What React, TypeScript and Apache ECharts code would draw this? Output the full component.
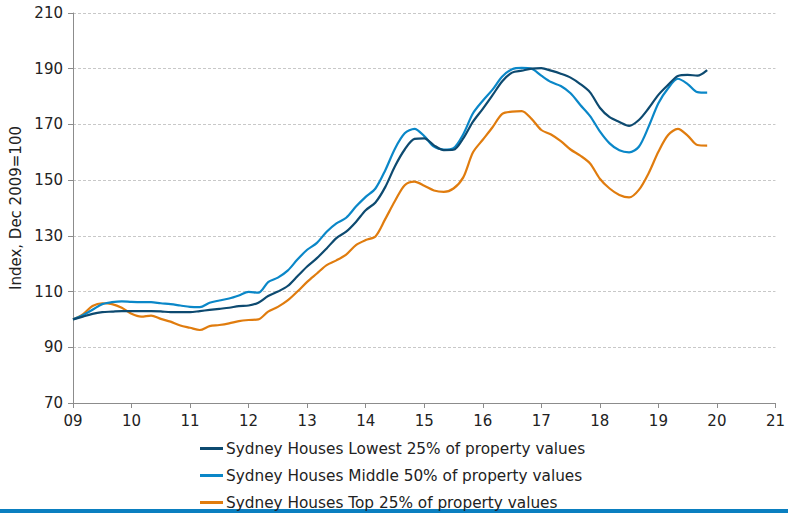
import React, { useEffect, useRef } from "react";
import * as echarts from "echarts";

// Time axis: every two months from Dec 2009 (axis position 9 = start)
const periods: number[] = Array.from({ length: 66 }, (_, k) => k);
const xTickLabels = ["09", "10", "11", "12", "13", "14", "15", "16", "17", "18", "19", "20", "21"];

const lowest25: number[] = [
  100, 101.0, 102.0, 102.6, 102.8, 103.0, 103.0, 103.0, 103.0, 102.9,
  102.6, 102.6, 102.6, 103.0, 103.4, 103.8, 104.2, 104.8, 105.0, 106.0,
  108.4, 110.0, 112.0, 115.5, 119.0, 122.0, 125.5, 129.2, 131.5, 135.0,
  139.2, 142.0, 147.5, 155.0, 161.0, 164.8, 165.0, 162.5, 160.8, 160.9,
  165.0, 171.0, 175.6, 180.5, 185.5, 188.6, 189.3, 190.0, 190.2, 189.3,
  188.2, 186.8, 184.5, 181.5, 176.0, 172.6, 170.9, 169.5, 171.6, 175.8,
  180.6, 184.2, 187.4, 187.8, 187.5, 189.5,
];

const middle50: number[] = [
  100, 101.5, 103.5, 105.5, 106.2, 106.5, 106.3, 106.2, 106.2, 105.8,
  105.5, 105.0, 104.5, 104.4, 106.0, 106.8, 107.5, 108.6, 109.9, 109.6,
  113.4, 115.0, 117.5, 121.5, 125.0, 127.5, 131.5, 134.5, 136.5, 140.5,
  144.0, 147.0, 153.5, 161.3, 166.8, 168.4, 165.8, 162.0, 161.0, 161.5,
  166.5, 174.0, 178.5, 182.5, 187.2, 189.8, 190.3, 190.0, 187.5, 185.2,
  183.8, 181.2, 177.0, 173.0, 167.5, 163.2, 160.7, 160.0, 162.0, 169.2,
  177.6, 183.0, 186.4, 184.5, 181.6, 181.4,
];

const top25: number[] = [
  100, 101.8, 104.8, 105.8, 105.5, 104.2, 102.0, 101.0, 101.4, 100.2,
  99.2, 97.8, 97.0, 96.2, 97.6, 98.0, 98.6, 99.4, 99.8, 100.0,
  102.8, 104.5, 106.8, 110.0, 113.5, 116.5, 119.5, 121.2, 123.3, 126.7,
  128.5, 129.8, 136.0, 142.5, 148.2, 149.5, 148.0, 146.3, 145.8, 147.0,
  151.0, 160.0, 164.5, 169.0, 173.8, 174.6, 174.8, 172.0, 168.0, 166.4,
  164.0, 161.0, 158.8, 156.0, 150.5, 147.0, 144.7, 143.8, 146.5, 152.5,
  160.2, 166.2, 168.4, 166.0, 162.6, 162.4,
];

const seriesNames = [
  "Sydney Houses Lowest 25% of property values",
  "Sydney Houses Middle 50% of property values",
  "Sydney Houses Top 25% of property values",
];
const seriesColors = ["#0d4a70", "#0a87c8", "#e07c0e"];

const toPairs = (vals: number[]) => vals.map((v, i) => [9 + periods[i] / 6, v]);

export default function App() {
  const ref = useRef<HTMLDivElement>(null);
  useEffect(() => {
    document.body.style.margin = "0";
    if (!ref.current) return;
    const chart = echarts.init(ref.current, undefined, { renderer: "svg" });
    const font = "DejaVu Sans, Verdana, sans-serif";
    const allSeries = [lowest25, middle50, top25];
    chart.setOption({
      animation: false,
      textStyle: { fontFamily: font },
      grid: { left: 73, right: 11, top: 13, bottom: 110, containLabel: false },
      xAxis: {
        type: "value",
        min: 9,
        max: 21,
        interval: 1,
        axisLine: { show: true, lineStyle: { color: "#8c8c8c", width: 1 } },
        axisTick: { show: true, length: 5, inside: false, lineStyle: { color: "#8c8c8c" } },
        axisLabel: {
          color: "#222",
          fontSize: 15,
          fontFamily: font,
          margin: 10,
          formatter: (v: number) => xTickLabels[Math.round(v) - 9] ?? "",
        },
        splitLine: { show: false },
      },
      yAxis: {
        type: "value",
        min: 70,
        max: 210,
        interval: 20,
        name: "Index, Dec 2009=100",
        nameLocation: "middle",
        nameGap: 42,
        nameRotate: 90,
        nameTextStyle: { color: "#222", fontSize: 15, fontFamily: font },
        axisLine: { show: true, lineStyle: { color: "#8c8c8c", width: 1 } },
        axisTick: { show: true, length: 5, lineStyle: { color: "#8c8c8c" } },
        axisLabel: { color: "#222", fontSize: 15, fontFamily: font, margin: 10 },
        splitLine: { show: true, lineStyle: { color: "#c8c8c8", type: [3, 2], width: 1 } },
      },
      legend: {
        orient: "vertical",
        left: 200,
        top: 441,
        height: 80,
        padding: 0,
        itemWidth: 23,
        itemHeight: 3,
        itemGap: 12,
        icon: "rect",
        textStyle: { color: "#222", fontSize: 15.3, fontFamily: font, padding: [0, 0, 0, -2] },
        data: seriesNames,
      },
      series: allSeries.map((vals, i) => ({
        name: seriesNames[i],
        type: "line",
        data: toPairs(vals),
        showSymbol: false,
        symbol: "none",
        smooth: 0.3,
        lineStyle: { color: seriesColors[i], width: 2.2 },
        itemStyle: { color: seriesColors[i] },
        z: 3 - i,
      })),
      graphic: [
        {
          type: "rect",
          left: 0,
          top: 509,
          shape: { x: 0, y: 0, width: 788, height: 4 },
          style: { fill: "#0a7fc0" },
        },
      ],
    });
    return () => chart.dispose();
  }, []);
  return <div ref={ref} style={{ width: 788, height: 513 }} />;
}
